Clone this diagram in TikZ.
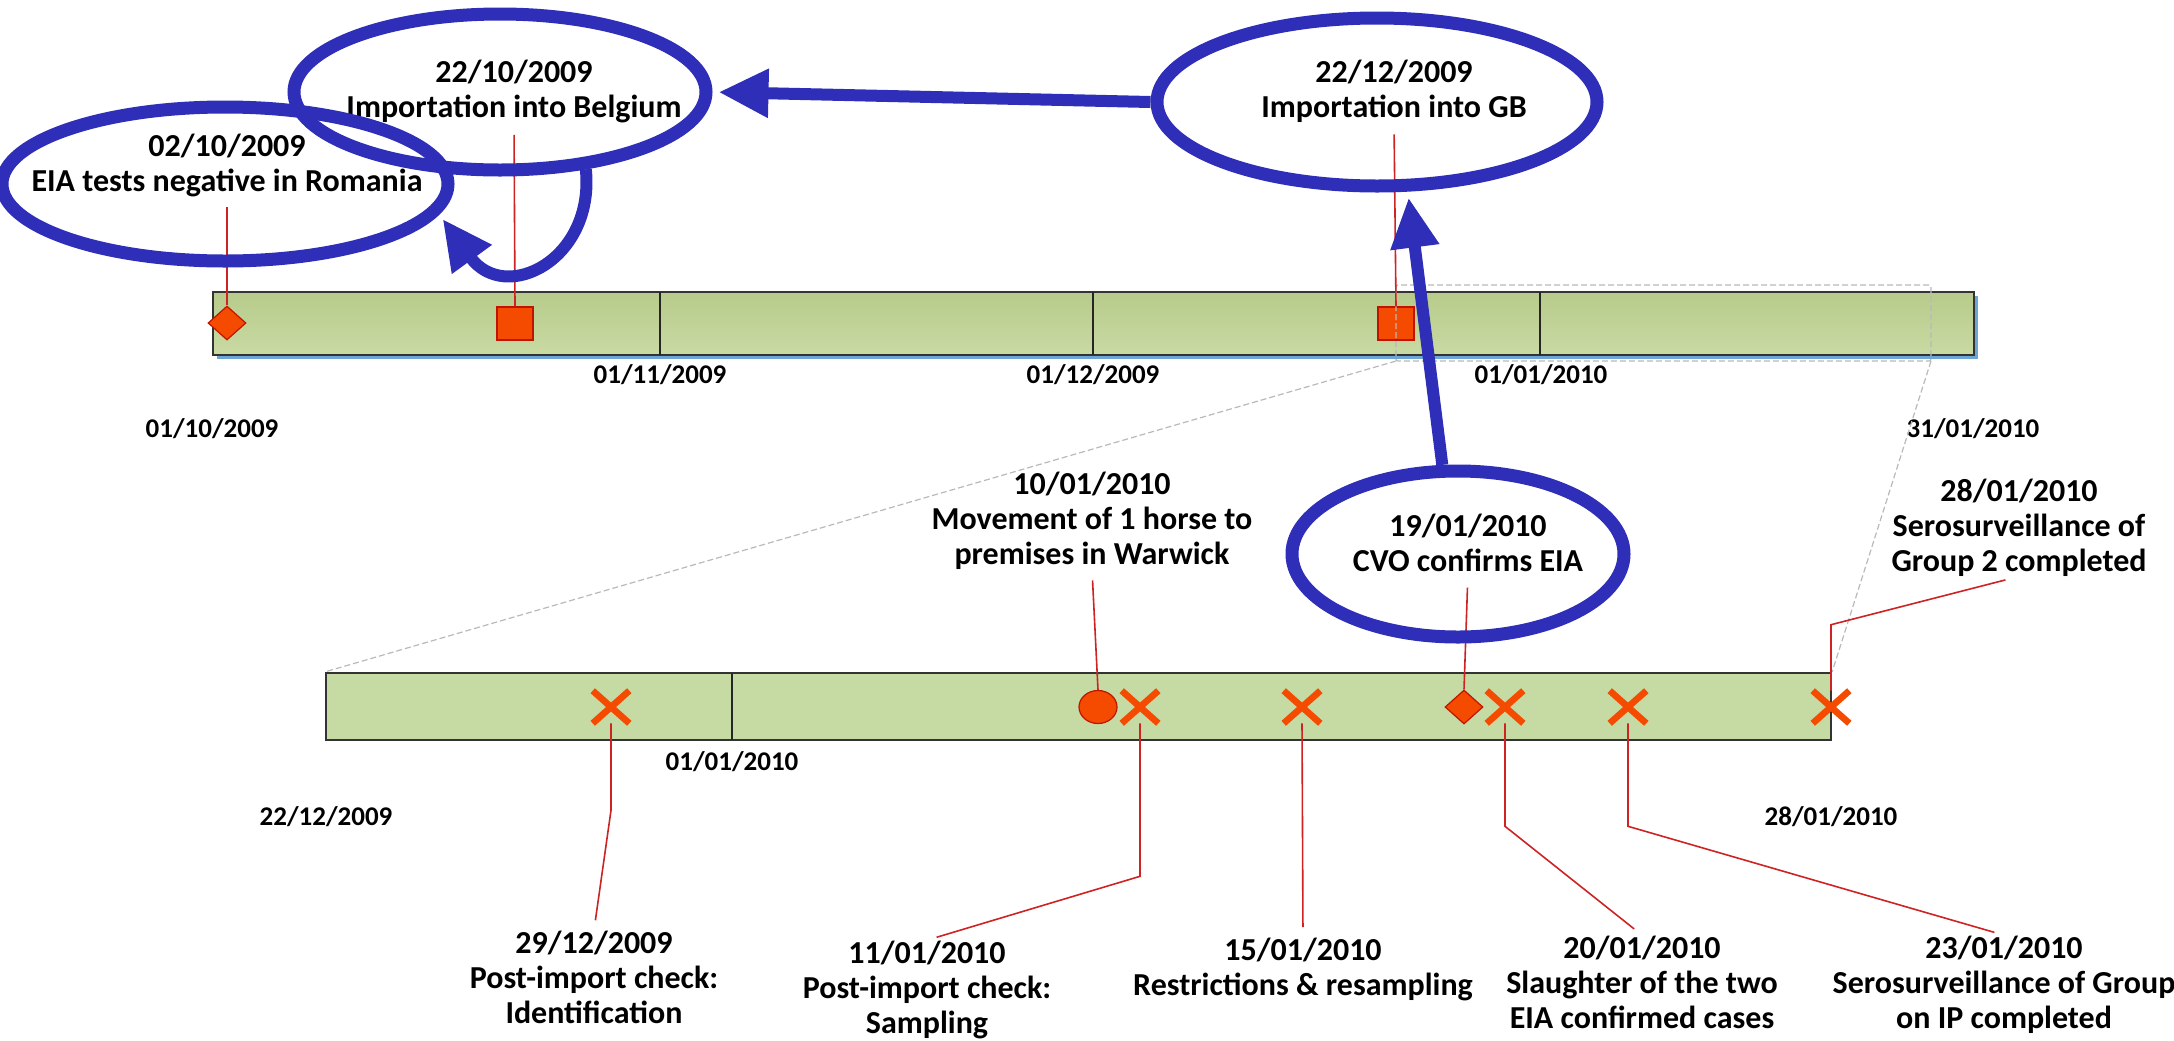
\documentclass[tikz,border=0pt]{standalone}
\usepackage{fontspec}
\setmainfont{Carlito}
\usetikzlibrary{positioning,shapes.geometric,shapes.misc,arrows.meta}

\definecolor{ringblue}{RGB}{46,46,184}
\definecolor{markred}{RGB}{245,75,0}
\definecolor{markedge}{RGB}{190,20,0}
\definecolor{leadred}{RGB}{205,35,35}
\definecolor{bartop}{RGB}{183,203,139}
\definecolor{barbot}{RGB}{201,218,163}
\definecolor{barlight}{RGB}{198,218,164}
\definecolor{barmid}{RGB}{181,202,138}
\definecolor{barshadow}{RGB}{110,165,215}

\tikzset{
  evlabel/.style={align=center, anchor=base, inner sep=0pt, font=\fontsize{16}{17.5}\selectfont\bfseries},
  axlabel/.style={anchor=base, inner sep=0pt, font=\fontsize{13.5}{16}\selectfont\bfseries},
  ring/.style={ellipse, draw=ringblue, line width=6.5pt, inner sep=0pt},
  bluearrow/.style={draw=ringblue, line width=6pt, -{Triangle[length=25pt,width=23pt]}},
  bar/.style={draw=black!80, line width=1.1pt, inner sep=0pt},
  divider/.style={draw=black!85, line width=0.8pt},
  mdiamond/.style={diamond, fill=markred, draw=markedge, line width=0.6pt, inner sep=0pt, minimum width=19pt, minimum height=17pt},
  msquare/.style={rectangle, fill=markred, draw=markedge, line width=0.6pt, inner sep=0pt, minimum width=18pt, minimum height=16.5pt},
  mdot/.style={ellipse, fill=markred, draw=markedge, line width=0.6pt, inner sep=0pt, minimum width=19pt, minimum height=16.5pt},
  mcross/.style={cross out, draw=markred, line width=3.3pt, inner sep=0pt, minimum width=15pt, minimum height=13pt},
  leader/.style={draw=leadred, line width=0.8pt},
  zoomline/.style={draw=gray!55, line width=0.6pt, dash pattern=on 3pt off 1.5pt}
}

\begin{document}
\begin{tikzpicture}[x=0.5pt, y=-0.5pt]
  \useasboundingbox (0,0) rectangle (2174,1040);

  % upper time line, Oct 2009 to Jan 2010
  \fill[barshadow] (217,296) rectangle (1978,359);
  \node[bar, top color=bartop, bottom color=barbot, minimum width=880.5pt, minimum height=31.5pt] (topbar) at (1093.5,323.5) {};
  \foreach \x in {660,1093,1540}
    \draw[divider] (\x,292) -- (\x,355);

  \node[mdiamond] (mRomania) at (227,323) {};
  \node[msquare] (mBelgium) at (515,323.5) {};
  \node[msquare] (mGB) at (1396,323.5) {};

  \node[axlabel] (dOct) at (212,437) {01/10/2009};
  \node[axlabel] (dNov) at (660,383) {01/11/2009};
  \node[axlabel] (dDec) at (1093,383) {01/12/2009};
  \node[axlabel] (dJan) at (1541,383) {01/01/2010};
  \node[axlabel] (dEnd) at (1973,437) {31/01/2010};

  % zoomed part
  \draw[zoomline, rounded corners=1pt] (1396,285) rectangle (1931,361);
  \coordinate (zoomL) at (1396,361);
  \coordinate (zoomR) at (1931,361);

  % lower time line, 22/12/2009 to 28/01/2010
  \node[bar, top color=barlight, middle color=barmid, bottom color=barlight, minimum width=752.5pt, minimum height=33.5pt] (lowbar) at (1078.5,706.5) {};
  \draw[divider] (732,673) -- (732,740);
  \draw[zoomline] (zoomL) -- (lowbar.north west);
  \draw[zoomline] (zoomR) -- (lowbar.north east);

  \node[axlabel] (lStart) at (326,825) {22/12/2009};
  \node[axlabel] (lJan) at (732,770) {01/01/2010};
  \node[axlabel] (lEnd) at (1831,825) {28/01/2010};

  \node[mcross] (xIdent) at (611,707) {};
  \node[mdot] (mWarwick) at (1098,707) {};
  \node[mcross] (xSampling) at (1140,707) {};
  \node[mcross] (xRestrict) at (1302,707) {};
  \node[mdiamond] (mCVO) at (1464,707) {};
  \node[mcross] (xSlaughter) at (1505,707) {};
  \node[mcross] (xSero) at (1628,707) {};
  \node[mcross] (xGroup) at (1831,707) {};

  % event labels (placed at the baseline of their last line)
  \node[evlabel] (lblRomania) at (227,191) {02/10/2009\\EIA tests negative in Romania};
  \node[evlabel] (lblBelgium) at (514,117) {22/10/2009\\Importation into Belgium};
  \node[evlabel] (lblGB) at (1394,117) {22/12/2009\\Importation into GB};
  \node[evlabel] (lblWarwick) at (1092,564) {10/01/2010\\Movement of 1 horse to\\premises in Warwick};
  \node[evlabel] (lblCVO) at (1468,571) {19/01/2010\\CVO confirms EIA};
  \node[evlabel] (lblGroup) at (2019,571) {28/01/2010\\Serosurveillance of\\Group 2 completed};
  \node[evlabel] (lblIdent) at (594,1023) {29/12/2009\\Post-import check:\\Identification};
  \node[evlabel] (lblSampling) at (927,1033) {11/01/2010\\Post-import check:\\Sampling};
  \node[evlabel] (lblRestrict) at (1303,995) {15/01/2010\\Restrictions \& resampling};
  \node[evlabel] (lblSlaughter) at (1642,1028) {20/01/2010\\Slaughter of the two\\EIA confirmed cases};
  \node[evlabel] (lblSero) at (2004,1028) {23/01/2010\\Serosurveillance of Group\\on IP completed};

  % leader lines
  \draw[leader, shorten <=5pt] (lblRomania.south) -- (mRomania.north);
  \draw[leader, shorten <=6pt] (lblBelgium.south) -- (mBelgium.north);
  \draw[leader, shorten <=6pt] (lblGB.south) -- (mGB.north);
  \draw[leader, shorten >=5.5pt] (mWarwick.north) -- (lblWarwick.south);
  \draw[leader, shorten >=8pt] (mCVO.north) -- (lblCVO.south);
  \draw[leader, shorten >=7pt] (xGroup.north) -- ++(0,-66) -- (lblGroup.south);
  \draw[leader, shorten >=5pt] (xIdent.south) -- ++(0,87) -- (lblIdent.north);
  \draw[leader, shorten >=5pt] (xSampling.south) -- ++(0,153) -- (lblSampling.north);
  \draw[leader, shorten >=5pt] (xRestrict.south) -- (lblRestrict.north);
  \draw[leader, shorten >=5pt] (xSlaughter.south) -- ++(0,103) -- (lblSlaughter.north);
  \draw[leader, shorten >=5pt] (xSero.south) -- ++(0,103) -- (lblSero.north);

  % blue rings and arrows
  \node[ring, minimum width=223pt, minimum height=77pt] (ringRomania) at (225,184) {};
  \node[ring, minimum width=206pt, minimum height=78pt] (ringBelgium) at (500,92) {};
  \node[ring, minimum width=220pt, minimum height=84pt] (ringGB) at (1377,102) {};
  \node[ring, minimum width=166pt, minimum height=83pt] (ringCVO) at (1458,554) {};

  \draw[bluearrow, shorten >=3pt] (ringGB.west) -- (ringBelgium.east);
  \draw[bluearrow, shorten >=3pt] (ringCVO.100) -- (ringGB.289);
  \draw[bluearrow, shorten >=3pt] (ringBelgium.318) .. controls (595,260) and (505,305) .. (ringRomania.352);
\end{tikzpicture}
\end{document}
